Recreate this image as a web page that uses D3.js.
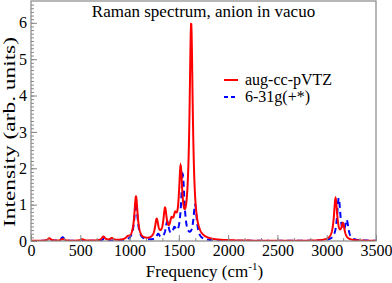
<!DOCTYPE html>
<html>
<head>
<meta charset="utf-8">
<script src="https://cdn.jsdelivr.net/npm/d3@7"></script>
<style>
  body { margin: 0; background: #fff; }
  svg { display: block; }
  text { font-family: "Liberation Serif", "Times New Roman", Times, "DejaVu Serif", serif; fill: #000; }
</style>
</head>
<body>
<svg width="392" height="283"></svg>
<script>
// stick spectra: [frequency cm-1, peak intensity]
var augPeaks = [
  [186, 0.07], [321, 0.05], [520, 0.04], [735, 0.11], [820, 0.06], [980, 0.06],
  [1065, 1.2], [1275, 0.52], [1360, 0.78], [1425, 0.35], [1462, 0.4],
  [1518, 1.8], [1625, 5.9], [3090, 1.15], [3165, 0.42]
];
var gPeaks = [
  [186, 0.03], [321, 0.1], [740, 0.05], [1065, 1.05], [1290, 0.15], [1382, 0.48],
  [1455, 0.25], [1540, 1.78], [1665, 0.95], [3122, 1.15], [3203, 0.52]
];
var hwhm = 20;
var seriesNames = ["aug-cc-pVTZ", "6-31g(+*)"];
var xTicks = [0, 500, 1000, 1500, 2000, 2500, 3000, 3500];
var yTicks = [0, 1, 2, 3, 4, 5, 6];

var svg = d3.select("svg");
var margin = {left: 31, right: 16, top: 1, bottom: 42};
var width = 392 - margin.left - margin.right,
    height = 283 - margin.top - margin.bottom;

var x = d3.scaleLinear().domain([0, 3500]).range([0, width]);
var y = d3.scaleLinear().domain([0, 6.6]).range([height, 0]);

//broaden the sticks into lorentzian bands
function spectrum(peaks) {
  var pts = [];
  for (var f = 0; f <= 3500; f += 2) {
    var s = 0;
    peaks.forEach(function(p) {
      var d = (f - p[0]) / hwhm;
      s += p[1] / (1 + d * d);
    });
    pts.push([f, s]);
  }
  return pts;
}

var g = svg.append("g")
    .attr("transform", "translate(" + margin.left + "," + margin.top + ")");

g.append("clipPath").attr("id", "clip")
  .append("rect").attr("width", width).attr("height", height);

var line = d3.line()
    .x(function(d) { return x(d[0]); })
    .y(function(d) { return y(d[1]); });

var plot = g.append("g").attr("clip-path", "url(#clip)");

plot.append("path")
    .datum(spectrum(gPeaks))
    .attr("fill", "none")
    .attr("stroke", "#0000ff")
    .attr("stroke-width", 2)
    .attr("stroke-dasharray", "6,4")
    .attr("d", line);

plot.append("path")
    .datum(spectrum(augPeaks))
    .attr("fill", "none")
    .attr("stroke", "#ff0000")
    .attr("stroke-width", 2)
    .attr("d", line);

//frame
g.append("rect")
    .attr("width", width).attr("height", height)
    .attr("fill", "none").attr("stroke", "#888").attr("stroke-width", 1.2);

//axes with inward ticks
var xMinor = d3.range(0, 3501, 500 / 3);
var xAxis = d3.axisBottom(x).tickValues(xTicks).tickSize(-6).tickPadding(4).tickFormat(d3.format("d"));
var xAxisMinor = d3.axisBottom(x).tickValues(xMinor).tickSize(-3).tickFormat("");
var yMinor = d3.range(0, 66).map(function(i) { return i / 10; });
var yAxis = d3.axisLeft(y).tickValues(yTicks).tickSize(-6).tickPadding(4).tickFormat(d3.format("d"));
var yAxisMinor = d3.axisLeft(y).tickValues(yMinor).tickSize(-3).tickFormat("");

[[xAxisMinor, "x"], [xAxis, "x"], [yAxisMinor, "y"], [yAxis, "y"]].forEach(function(a) {
  var ag = g.append("g")
      .attr("transform", a[1] == "x" ? "translate(0," + height + ")" : null)
      .call(a[0]);
  ag.attr("font-family", null).attr("font-size", null);
  ag.select(".domain").remove();
  ag.selectAll("line").attr("stroke", "#888");
  ag.selectAll("text").style("font-size", "16px").attr("fill", "#000");
});

//title
g.append("text")
    .attr("x", width / 2).attr("y", 16)
    .attr("text-anchor", "middle")
    .style("font-size", "17px")
    .text("Raman spectrum, anion in vacuo");

//axis labels
var xl = svg.append("text")
    .attr("x", margin.left + width / 2 + 1).attr("y", 277)
    .attr("text-anchor", "middle")
    .style("font-size", "17px");
xl.append("tspan").text("Frequency (cm");
xl.append("tspan").attr("dy", -7).style("font-size", "11px").text("-1");
xl.append("tspan").attr("dy", 7).text(")");

svg.append("text")
    .attr("transform", "translate(15,132) rotate(-90)")
    .attr("text-anchor", "middle")
    .attr("textLength", 190)
    .attr("lengthAdjust", "spacingAndGlyphs")
    .style("font-size", "17px")
    .text("Intensity (arb. units)");

//legend
var legend = g.selectAll(".legend")
    .data(seriesNames)
    .enter().append("g")
    .attr("transform", function(d, i) { return "translate(193," + (79 + i * 17) + ")"; });

legend.append("line")
    .attr("x1", 0).attr("x2", 14)
    .attr("stroke", function(d, i) { return i == 0 ? "#ff0000" : "#0000ff"; })
    .attr("stroke-width", 2)
    .attr("stroke-dasharray", function(d, i) { return i == 0 ? null : "4,3"; });

legend.append("text")
    .attr("x", 21).attr("y", 5)
    .style("font-size", "16px")
    .text(function(d) { return d; });
</script>
</body>
</html>
